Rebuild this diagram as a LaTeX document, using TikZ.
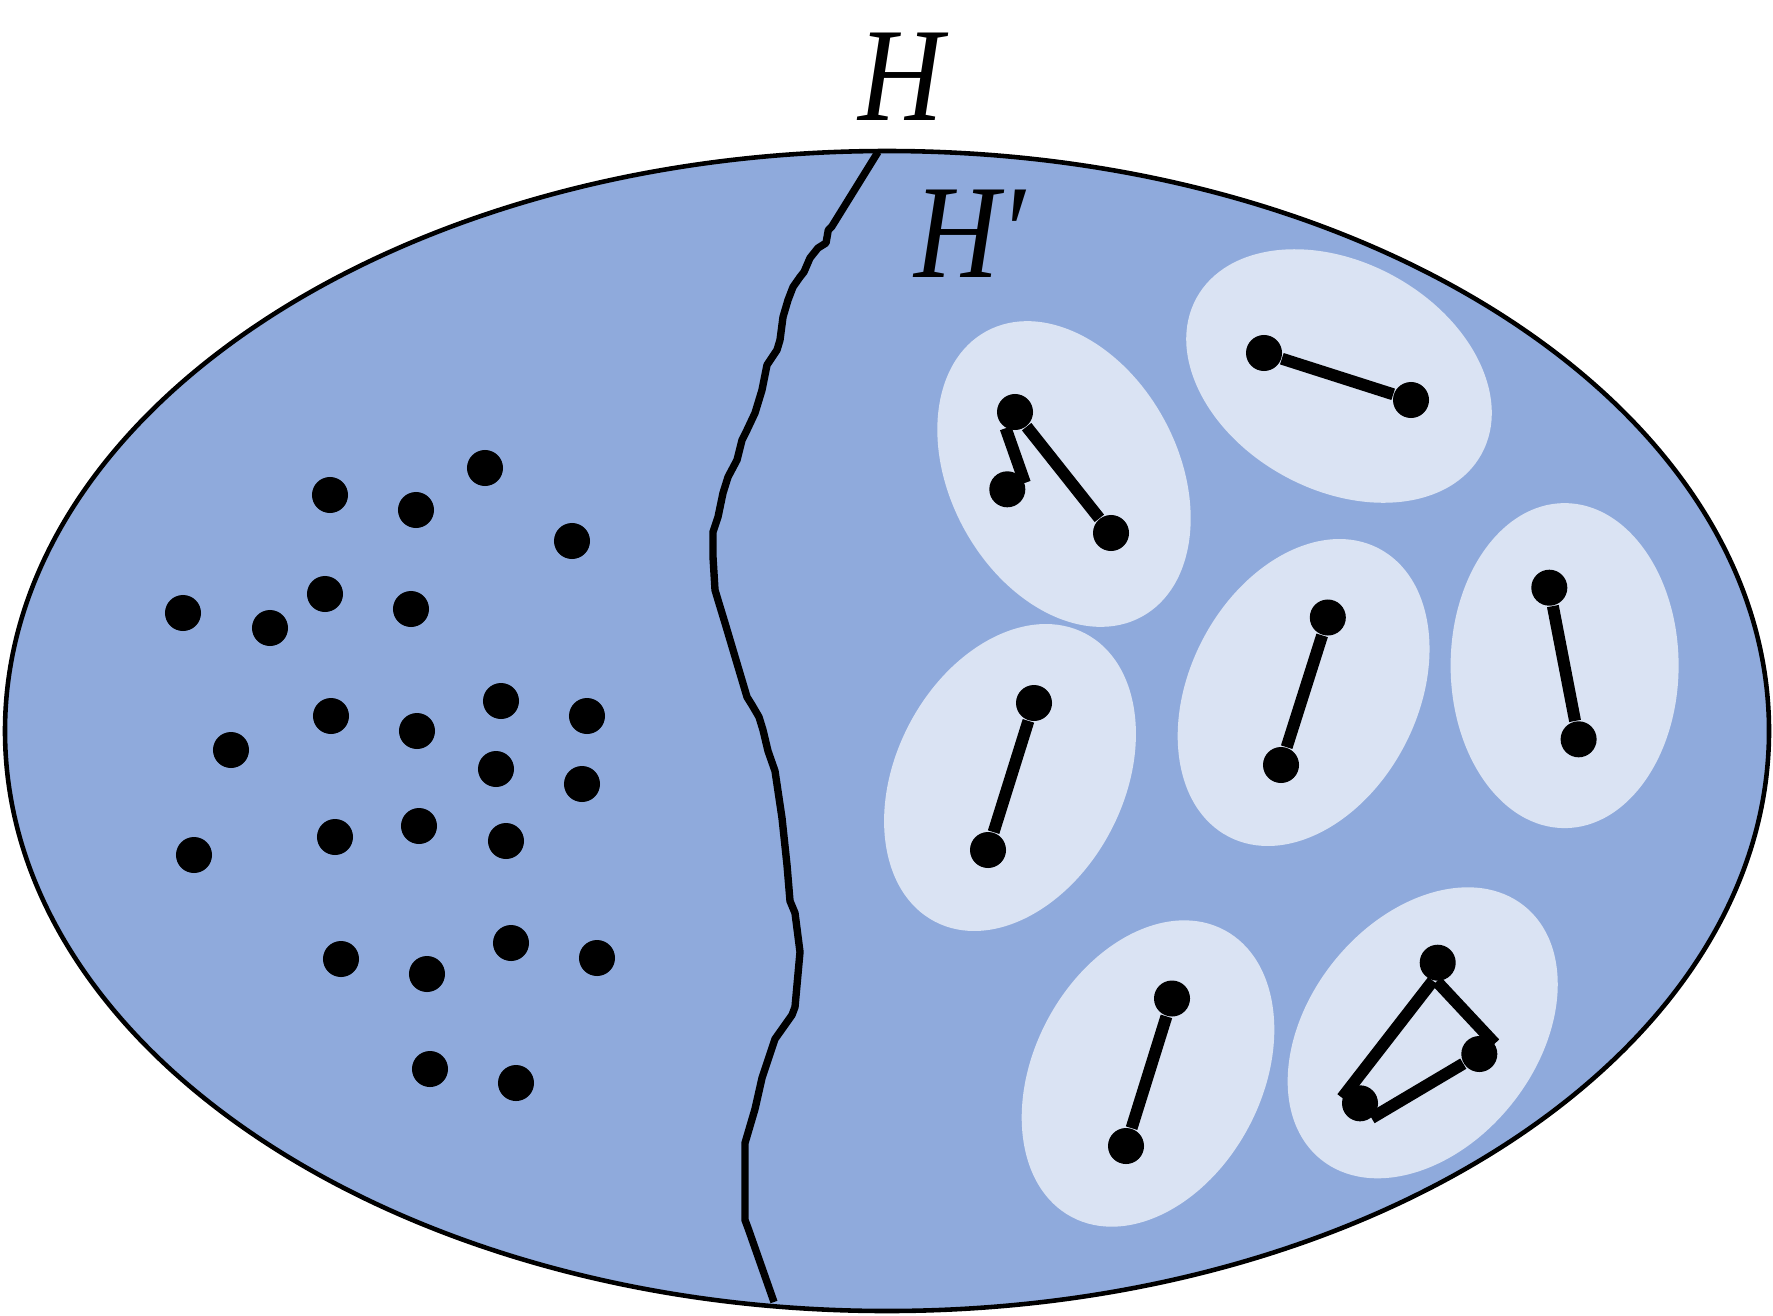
\documentclass[tikz,border=0pt]{standalone}
\usepackage{fontspec}
\newfontfamily\labfont[FakeStretch=0.88]{Liberation Serif}
\definecolor{bigblue}{HTML}{8FAADC}
\definecolor{paleblue}{HTML}{DAE3F3}
\begin{document}
\begin{tikzpicture}[x=0.01cm,y=-0.01cm,
  vtx/.style={circle,fill=black,inner sep=0pt,minimum size=0.36cm},
  link/.style={line width=3.4pt},
  blob/.style={fill=paleblue},
  lab/.style={font=\labfont\itshape\fontsize{38}{40}\selectfont,inner sep=0pt}]
\useasboundingbox (0,0) rectangle (1773,1315);
% outer set
\filldraw[fill=bigblue,draw=black,line width=1.3pt] (887,731) ellipse [x radius=882, y radius=580];
% boundary between H and H'
\draw[line width=2.1pt,line join=round]
 (878,152) -- (831.7,226.7) -- (828.3,230) -- (826,243) -- (818,248) -- (810,258) -- (804,272)
 -- (800,277) -- (793,287) -- (788,300) -- (783,317) -- (780,340) -- (777,350) -- (767,365)
 -- (762,390) -- (755,413) -- (747,430) -- (742,440) -- (737,460) -- (728,477) -- (723,493)
 -- (718,517) -- (713,532) -- (713,557) -- (715,590) -- (718,600) -- (725,623) -- (747,697)
 -- (752,705) -- (759,717) -- (763,730) -- (768,751) -- (775,771) -- (782,818) -- (787,865)
 -- (790,901) -- (795,913) -- (800,952) -- (795,1007) -- (792,1015) -- (775,1039) -- (762,1078)
 -- (755,1109) -- (745,1143) -- (745,1220) -- (748,1228) -- (774,1302);
% components
\fill[blob,rotate around={-61.5:(1064,474)}] (1064,474) ellipse [x radius=162.5, y radius=114];
\fill[blob,rotate around={-28.6:(1339,376)}] (1339,376) ellipse [x radius=162.5, y radius=114];
\fill[blob,rotate around={62.5:(1010,777.5)}] (1010,777.5) ellipse [x radius=162.5, y radius=114];
\fill[blob,rotate around={62.5:(1303.6,692.5)}] (1303.6,692.5) ellipse [x radius=162.5, y radius=114];
\fill[blob,rotate around={90:(1564.6,665.6)}] (1564.6,665.6) ellipse [x radius=162.5, y radius=114];
\fill[blob,rotate around={62:(1148,1073.5)}] (1148,1073.5) ellipse [x radius=162.5, y radius=114];
\fill[blob,rotate around={51.3:(1422.7,1032.8)}] (1422.7,1032.8) ellipse [x radius=162.5, y radius=114];
% labels
\node[lab,anchor=base] (lh) at (901,120) {H};
\node[lab,anchor=base west] (lhp) at (914,277) {H′};
% isolated vertices
\foreach \p [count=\i] in {(330,495),(416,510),(485,468),(572,541),(183,613),(270,628),(325,594),
  (411,609),(331,716),(417,731),(501,701),(587,716),(231,750),(496,769),(582,784),(194,855),
  (335,837),(419,826),(506,841),(341,959),(427,974),(511,943),(597,958),(430,1069),(516,1083)}
  \node[vtx] (v\i) at \p {};
% component vertices
\node[vtx] (a1) at (1015,412) {};
\node[vtx] (b1) at (1111,533) {};
\node[vtx] (c1) at (1007.3,489.3) {};
\node[vtx] (a2) at (1264,353) {};
\node[vtx] (b2) at (1411,400) {};
\node[vtx] (a3) at (1034,703) {};
\node[vtx] (b3) at (988,850) {};
\node[vtx] (a4) at (1327.8,617.5) {};
\node[vtx] (b4) at (1281,765) {};
\node[vtx] (a5) at (1549.3,587.7) {};
\node[vtx] (b5) at (1578.6,739.3) {};
\node[vtx] (a6) at (1172,998.5) {};
\node[vtx] (b6) at (1126,1146) {};
\node[vtx] (a7) at (1437.7,962.7) {};
\node[vtx] (b7) at (1479.3,1054) {};
\node[vtx] (c7) at (1360,1103.3) {};
% edges
\draw[link] (a1) -- (b1);
\draw[link] (a1.240) -- (c1.20);
\draw[link] (a2) -- (b2);
\draw[link] (a3) -- (b3);
\draw[link] (a4) -- (b4);
\draw[link] (a5) -- (b5);
\draw[link] (a6) -- (b6);
\draw[link] (a7.255) -- (c7.163);
\draw[link] (a7.267) -- (b7.34);
\draw[link] (b7.211) -- (c7.308);
\end{tikzpicture}
\end{document}
